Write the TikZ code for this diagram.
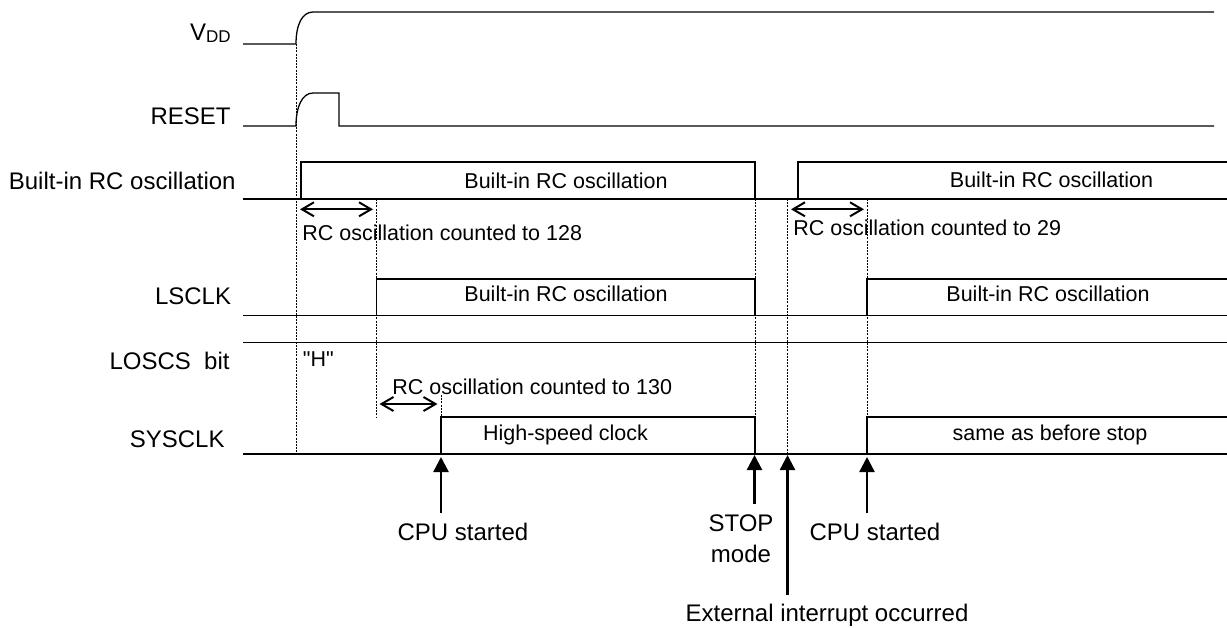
\documentclass[tikz,border=0pt]{standalone}
\usepackage{fontspec}
\setmainfont{Liberation Sans}
\newfontfamily\qfont{Liberation Sans}[Ligatures=TeXOff]
\usetikzlibrary{arrows.meta}
\begin{document}
\begin{tikzpicture}[x=0.5pt,y=-0.5pt,
  wave/.style={line width=0.65pt, line join=miter},
  guide/.style={line width=0.4pt, dash pattern=on 1pt off 0.6pt},
  span/.style={line width=1pt, {Straight Barb[length=6pt,width=7pt,line width=1pt]}-{Straight Barb[length=6pt,width=7pt,line width=1pt]}},
  event/.style={line width=1.2pt, -{Triangle[length=7.5pt,width=7.5pt]}},
  siglabel/.style={font=\fontsize{12}{14}\selectfont, anchor=base east, inner sep=0pt},
  boxtext/.style={font=\fontsize{10.75}{13}\selectfont, anchor=base, inner sep=0pt},
  note/.style={font=\fontsize{10.75}{13}\selectfont, anchor=base west, inner sep=0pt},
  evtext/.style={font=\fontsize{12}{15}\selectfont, anchor=base, inner sep=0pt, align=center}]
\useasboundingbox (0,0) rectangle (1227,627);

% guide lines (dotted)
\draw[guide] (296,44) -- (296,454);
\draw[guide] (376.5,199) -- (376.5,417);
\draw[guide] (441,395) -- (441,454);
\draw[guide] (755,199) -- (755,454);
\draw[guide] (787.5,199) -- (787.5,454);
\draw[guide] (867,199) -- (867,454);

% signal labels
\node[siglabel] (lvdd) at (231,40) {V\raisebox{-1.2pt}{\fontsize{8.5}{9}\selectfont DD}};
\node[siglabel] (lreset) at (231,124) {RESET};
\node[siglabel] (lrc) at (236,189.3) {Built-in RC oscillation};
\node[siglabel] (llsclk) at (231.5,304) {LSCLK};
\node[siglabel] (lloscs) at (230,369.3) {LOSCS\ \ bit};
\node[siglabel] (lsys) at (225,447.7) {SYSCLK};

% VDD
\draw[wave] (243,44) -- (296,44) .. controls (296,25) and (302,12) .. (313,12) -- (1214,12);
% RESET
\draw[wave] (243,126) -- (296,126) .. controls (296,107) and (302,93) .. (313,93) -- (339,93) -- (339,126) -- (1214,126);
% Built-in RC oscillation
\draw[wave] (243,199) -- (1227,199);
\draw[wave] (301,199) -- (301,162) -- (755,162) -- (755,199);
\draw[wave] (798,199) -- (798,162) -- (1227,162);
% LSCLK
\draw[wave] (243,315.3) -- (1227,315.3);
\draw[wave] (376.5,315.3) -- (376.5,279) -- (755,279) -- (755,315.3);
\draw[wave] (867,315.3) -- (867,279) -- (1227,279);
% LOSCS
\draw[wave] (243,342.5) -- (1227,342.5);
% SYSCLK
\draw[wave] (243,454) -- (1227,454);
\draw[wave] (441,454) -- (441,417) -- (755,417) -- (755,454);
\draw[wave] (867,454) -- (867,417) -- (1227,417);

% box texts
\node[boxtext] (t1) at (566,188) {Built-in RC oscillation};
\node[boxtext] (t2) at (1051.5,187) {Built-in RC oscillation};
\node[boxtext] (t3) at (566,301.7) {Built-in RC oscillation};
\node[boxtext] (t4) at (1048,301.7) {Built-in RC oscillation};
\node[boxtext] (t5) at (565.5,440.7) {High-speed clock};
\node[boxtext] (t6) at (1050,440.7) {same as before stop};

% notes
\node[note] (n128) at (302,240.7) {RC oscillation counted to 128};
\node[note] (n29) at (793,235) {RC oscillation counted to 29};
\node[note] (n130) at (392,394) {RC oscillation counted to 130};
\node[note] (nh) at (302.5,366) {\qfont "H"};

% spans
\coordinate (s1a) at (300,209.3);
\coordinate (s1b) at (373,209.3);
\coordinate (s2a) at (791,209.3);
\coordinate (s2b) at (864,209.3);
\coordinate (s3a) at (379.5,404);
\coordinate (s3b) at (437.5,404);
\draw[span] (s1a) -- (s1b);
\draw[span] (s2a) -- (s2b);
\draw[span] (s3a) -- (s3b);

% events
\coordinate (e1t) at (441,513);   \coordinate (e1h) at (441,457);
\coordinate (e2t) at (754.5,504); \coordinate (e2h) at (754.5,455);
\coordinate (e3t) at (787.5,595); \coordinate (e3h) at (787.5,455);
\coordinate (e4t) at (867,513);   \coordinate (e4h) at (867,457);
\draw[event] (e1t) -- (e1h);
\draw[event] (e2t) -- (e2h);
\draw[event] (e3t) -- (e3h);
\draw[event] (e4t) -- (e4h);

\node[evtext] (cpu1) at (463,540) {CPU started};
\node[evtext] (stop) at (741,531) {STOP};
\node[evtext] (mode) at (741,562) {mode};
\node[evtext] (ext) at (827,621.7) {External interrupt occurred};
\node[evtext] (cpu2) at (875,540.7) {CPU started};
\end{tikzpicture}
\end{document}
